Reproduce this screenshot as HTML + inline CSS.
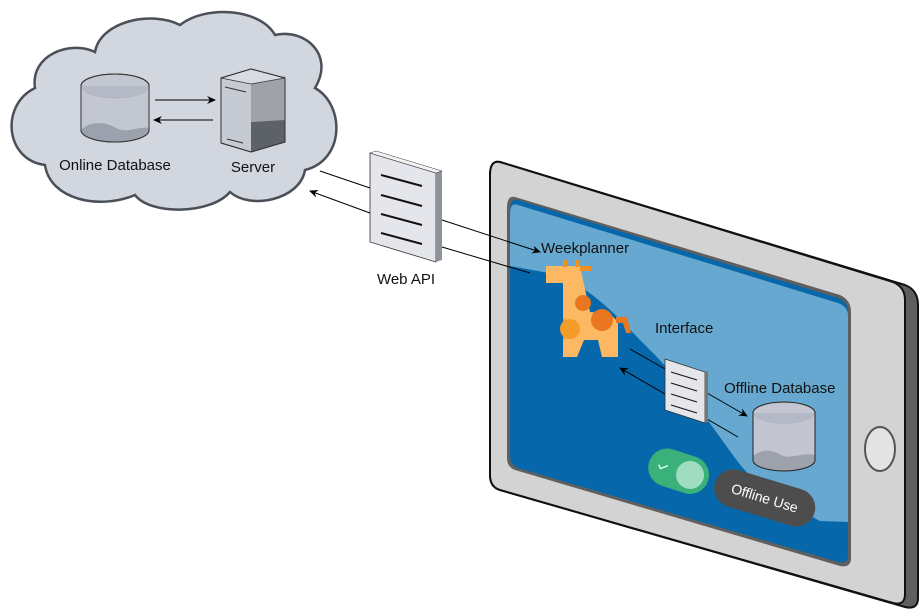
<!DOCTYPE html>
<html><head><style>body{margin:0;background:#fff}svg{display:block}text{font-family:"Liberation Sans",sans-serif}</style></head><body>
<svg width="920" height="611" viewBox="0 0 920 611" xmlns="http://www.w3.org/2000/svg">
<defs><marker id="a" markerWidth="10" markerHeight="10" refX="8" refY="5" orient="auto" markerUnits="userSpaceOnUse"><path d="M0,1 L9,5 L0,9 L3,5z" fill="#000"/></marker></defs>
<!-- cloud -->
<path d="M35,88 C30,55 70,40 95,52 C100,22 150,10 180,25 C205,5 260,8 275,35 C305,28 335,55 315,88 C345,105 345,160 305,170 C300,200 250,210 230,192 C210,215 150,215 135,195 C100,210 50,200 45,165 C5,160 0,105 35,88z" fill="#d2d6de" stroke="#4a4f58" stroke-width="2.5"/>
<!-- online db -->
<path d="M81,86 a34,12 0 0 1 68,0 v44 a34,12 0 0 1 -68,0z" fill="#c2c7d1" stroke="#333" stroke-width="1"/>
<path d="M81,130 c10,-10 25,-8 35,-2 c12,6 22,-2 33,0 v2 a34,12 0 0 1 -68,0z" fill="#9ca2ad"/>
<path d="M81,86 a34,12 0 0 0 68,0" fill="#b5bac6" stroke="#aab" stroke-width="0.5"/>
<path d="M81,86 a34,12 0 0 1 68,0 v44 a34,12 0 0 1 -68,0z" fill="none" stroke="#333" stroke-width="1"/>
<text x="115" y="170" font-size="15" text-anchor="middle" fill="#111">Online Database</text>
<!-- server -->
<path d="M221,78 L251,69 L285,78 L285,142 L251,152 L221,143z" fill="#c6cad3" stroke="#333"/>
<path d="M251,83 L285,76 L285,142 L251,152z" fill="#9fa3a9"/>
<path d="M251,122 L285,120 L285,142 L251,152z" fill="#5d6168"/>
<path d="M221,78 L251,69 L285,78 L251,84z" fill="#d8dbe2" stroke="#333" stroke-width="0.8"/>
<path d="M221,78 L251,69 L285,78 L285,142 L251,152 L221,143z" fill="none" stroke="#333"/>
<line x1="225" y1="87" x2="246" y2="92" stroke="#333"/><line x1="227" y1="139" x2="243" y2="143" stroke="#333"/>
<text x="253" y="172" font-size="15" text-anchor="middle" fill="#111">Server</text>
<line x1="155" y1="100" x2="215" y2="100" stroke="#000" marker-end="url(#a)"/>
<line x1="213" y1="120" x2="154" y2="120" stroke="#000" marker-end="url(#a)"/>
<!-- tablet -->
<path d="M500,162 L905,285 Q918,290 918,305 L918,598 Q918,610 905,607 L500,490 Q490,487 490,475 L490,175 Q490,160 500,162z" fill="#5f5f5f" stroke="#111" stroke-width="2"/>
<path d="M500,162 L893,282 Q905,287 905,300 L905,594 Q905,606 893,603 L500,490 Q490,487 490,475 L490,175 Q490,160 500,162z" fill="#d3d3d3" stroke="#111" stroke-width="2"/>
<path d="M515,197 L840,295 Q851,300 851,312 L851,558 Q851,568 840,566 L515,470 Q507,467 507,458 L507,208 Q507,195 515,197z" fill="#5f5f5f"/>
<path d="M518,200 L838,298 Q848,302 848,312 L848,555 Q848,564 838,562 L518,468 Q510,465 510,456 L510,210 Q510,198 518,200z" fill="#0667ab"/>
<path d="M518,205 L838,303 Q848,307 848,315 L848,522 L820,521 C780,500 760,490 738,462 C700,410 680,380 650,350 C620,320 600,295 560,275 L510,266 L510,214 Q510,202 518,205z" fill="#66a8cf"/>
<ellipse cx="880" cy="449" rx="15" ry="22" fill="#e4e4e4" stroke="#555" stroke-width="2"/>
<!-- web api doc -->
<path d="M370,153 L436,173 L436,262 L370,242z" fill="#e4e6ec" stroke="#333" stroke-width="0.8"/>
<path d="M436,173 L442,171 L442,260 L436,262z" fill="#8e9299"/>
<path d="M370,153 L376,151 L442,171 L436,173z" fill="#f4f4f4" stroke="#333" stroke-width="0.5"/>
<g stroke="#111" stroke-width="2"><line x1="381" y1="175" x2="422" y2="186"/><line x1="381" y1="195" x2="422" y2="206"/><line x1="381" y1="214" x2="422" y2="225"/><line x1="381" y1="233" x2="422" y2="244"/></g>
<text x="406" y="284" font-size="15" text-anchor="middle" fill="#111">Web API</text>
<line x1="320" y1="171" x2="370" y2="188" stroke="#000"/><line x1="442" y1="220" x2="540" y2="252" stroke="#000" marker-end="url(#a)"/>
<line x1="530" y1="273" x2="442" y2="247" stroke="#000"/><line x1="370" y1="213" x2="310" y2="191" stroke="#000" marker-end="url(#a)"/>
<text x="541" y="253" font-size="15" fill="#111">Weekplanner</text>
<!-- giraffe -->
<path d="M546,266 L580,266 L590,312 L610,314 L618,322 L618,357 L602,357 L598,340 L584,340 L577,357 L563,357 L563,283 L546,283z" fill="#fdb863"/>
<path d="M563,260 L567,260 L567,267 L563,267z M575,260 L579,260 L579,267 L575,267z M580,266 L591,266 L591,271 L580,271z" fill="#f0901f"/>
<circle cx="583" cy="303" r="8" fill="#e8771f"/><circle cx="602" cy="320" r="11" fill="#e8771f"/>
<path d="M563,318 A12,12 0 0 1 563,340z" fill="#f39c2a"/><circle cx="570" cy="329" r="10" fill="#f39c2a"/>
<path d="M616,317 L627,317 L631,333 L626,333 L623,323 L616,323z" fill="#e8771f"/>
<text x="655" y="333" font-size="15" fill="#111">Interface</text>
<!-- interface doc -->
<line x1="630" y1="349" x2="665" y2="369" stroke="#000"/><line x1="707" y1="393" x2="747" y2="416" stroke="#000" marker-end="url(#a)"/>
<line x1="738" y1="437" x2="707" y2="419" stroke="#000"/><line x1="665" y1="394" x2="620" y2="368" stroke="#000" marker-end="url(#a)"/>
<path d="M665,359 L705,372 L705,423 L665,410z" fill="#e4e6ec" stroke="#333" stroke-width="0.8"/>
<path d="M705,372 L708,371 L708,422 L705,423z" fill="#777"/>
<g stroke="#111" stroke-width="1"><line x1="671" y1="372" x2="697" y2="380"/><line x1="671" y1="383" x2="697" y2="391"/><line x1="671" y1="394" x2="697" y2="402"/><line x1="671" y1="405" x2="697" y2="413"/></g>
<text x="724" y="393" font-size="15" fill="#111">Offline Database</text>
<!-- offline db -->
<path d="M753,413 a31,11 0 0 1 62,0 v47 a31,11 0 0 1 -62,0z" fill="#c3c6d0"/>
<path d="M753,456 c10,-8 20,-6 28,-1 c10,5 20,-3 34,0 v5 a31,11 0 0 1 -62,0z" fill="#9ea2ad"/>
<path d="M753,413 a31,11 0 0 0 62,0" fill="#b4b9c8"/>
<path d="M753,413 a31,11 0 0 1 62,0 v47 a31,11 0 0 1 -62,0z" fill="none" stroke="#222"/>
<!-- toggle -->
<g transform="rotate(18 678 470)"><rect x="648" y="452" width="62" height="38" rx="19" fill="#3ab07a"/><circle cx="691" cy="471" r="14" fill="#a0dcc0"/><path d="M658,471 l3,3 l6,-5" stroke="#cfe" stroke-width="1.5" fill="none"/></g>
<g transform="rotate(17 765 497)"><rect x="713" y="479" width="104" height="38" rx="19" fill="#4d4d4d"/><text x="765" y="503" font-size="14" fill="#fff" text-anchor="middle">Offline Use</text></g>
</svg>
</body></html>
